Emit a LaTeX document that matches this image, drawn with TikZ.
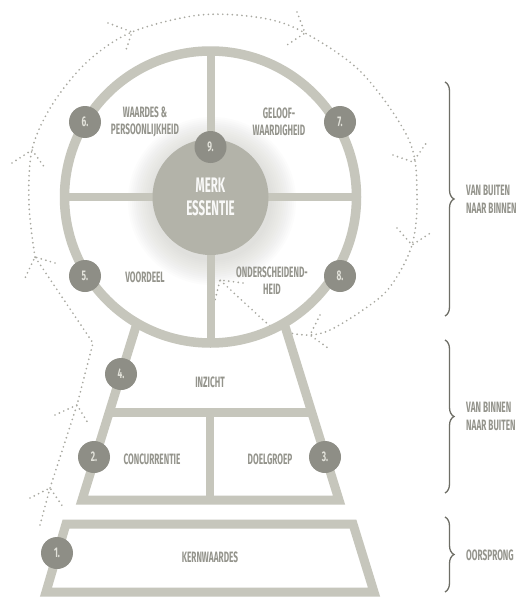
\documentclass[tikz,border=0pt]{standalone}
\usepackage{fontspec}
\setmainfont[FakeStretch=0.55]{Fira Sans}
\newfontfamily\numfont[FakeStretch=0.6]{Fira Sans}
\usetikzlibrary{decorations.pathreplacing}
\definecolor{ringc}{HTML}{C6C6BC}
\definecolor{numc}{HTML}{8E8E86}
\definecolor{corec}{HTML}{B3B3A9}
\definecolor{txtc}{HTML}{94948C}
\definecolor{dotc}{HTML}{A8A8A0}
\definecolor{bracec}{HTML}{6E6E66}
\definecolor{numtxt}{HTML}{E2E2DA}
\begin{document}
\begin{tikzpicture}[x=1pt,y=-1pt,
  bar/.style={draw=ringc,line width=9pt},
  num/.style={circle,fill=numc,minimum size=32pt,inner sep=0pt,text=numtxt,font=\numfont\bfseries\fontsize{14}{14}\selectfont},
  lbl/.style={text=txtc,font=\bfseries\fontsize{15}{17}\selectfont,align=center,inner sep=0pt},
  side/.style={text=txtc,font=\bfseries\fontsize{15}{18}\selectfont,align=left,inner sep=0pt,anchor=west},
  dots/.style={draw=dotc,line width=1.9pt,line cap=round,dash pattern=on 0pt off 4.8pt},
  brc/.style={draw=bracec,line width=1.3pt,decorate,decoration={brace,amplitude=9pt}}
]
\useasboundingbox (0,0) rectangle (524,597);
\fill[white] (0,0) rectangle (524,597);

% named coordinates
\coordinate (c) at (210.5,197);

% dotted arrows (drawn under the structure)
\draw[dots] (40,525) -- (50,488) -- (77,405) -- (93,343) -- (35,257);
\draw[dots] plot[smooth,tension=0.55] coordinates {(35,257) (29,205) (32,150) (52,105) (87,62) (132,32) (200,15) (262,18) (305,33) (362,73) (409,140) (417,195) (412,245) (390,287) (363,310) (330,330) (310,335) (290,333) (272,327) (248,306) (220,280)};
\foreach \tx/\ty/\ax/\ay/\bx/\by in {50/488/30/498/63/507, 77/405/55/415/88/423, 35/257/55/263/25/278, 32/150/12/163/45/168, 132/32/108/23/125/53, 305/33/297/12/287/45, 413/162/393/155/427/142, 412/245/397/228/432/232, 310/335/320/315/328/348, 220/280/243/283/215/300}
  \draw[dots] (\ax,\ay) -- (\tx,\ty) -- (\bx,\by);

% glow around the core
\foreach \r in {60,62,...,84}
  \fill[corec,opacity=0.03] (212,201) circle[radius=\r pt];

% wheel
\draw[bar,line width=8pt] (210.5,51) -- (210.5,343);
\draw[bar,line width=8pt] (64.5,197) -- (356.5,197);
\draw[bar,line width=9.5pt] (c) circle[radius=146pt];

% upper trapezoid
\draw[bar,line join=miter] (137,323) -- (82,500) -- (339,500) -- (284,323);
\draw[bar] (108,412) -- (313,412);
\draw[bar,line width=8pt] (210,412) -- (210,500);

% lower trapezoid
\draw[bar,line join=miter] (66,524) -- (353,524) -- (374,592) -- (46,592) -- cycle;

% core
\node[circle,fill=corec,minimum size=116pt,inner sep=0pt,text=white!92!corec,font=\bfseries\fontsize{21}{23}\selectfont,align=center] (core) at (c) {MERK\\ESSENTIE};

% number nodes
\node[num] (n1) at (57,553) {1.};
\node[num] (n2) at (94,457) {2.};
\node[num] (n3) at (325,457) {3.};
\node[num] (n4) at (121,374) {4.};
\node[num] (n5) at (85,276) {5.};
\node[num] (n6) at (85,122) {6.};
\node[num] (n7) at (340,122) {7.};
\node[num] (n8) at (340,276) {8.};
\node[num] (n9) at (210.5,147) {9.};

% labels
\node[lbl] (l6) at (145,122) {WAARDES \&\\PERSOONLIJKHEID};
\node[lbl] (l7) at (279,122) {GELOOF-\\WAARDIGHEID};
\node[lbl] (l5) at (145,277) {VOORDEEL};
\node[lbl] (l8) at (272,281) {ONDERSCHEIDEND-\\HEID};
\node[lbl] (l4) at (210,382) {INZICHT};
\node[lbl] (l2) at (152,459) {CONCURRENTIE};
\node[lbl] (l3) at (270,459) {DOELGROEP};
\node[lbl] (l1) at (210,557) {KERNWAARDES};

% braces
\draw[brc] (445,82) -- (445,316);
\draw[brc] (445,340) -- (445,493);
\draw[brc] (445,517) -- (445,592);
\node[side] (s1) at (466,199) {VAN BUITEN\\NAAR BINNEN};
\node[side] (s2) at (466,416) {VAN BINNEN\\NAAR BUITEN};
\node[side] (s3) at (466,555) {OORSPRONG};
\end{tikzpicture}
\end{document}
